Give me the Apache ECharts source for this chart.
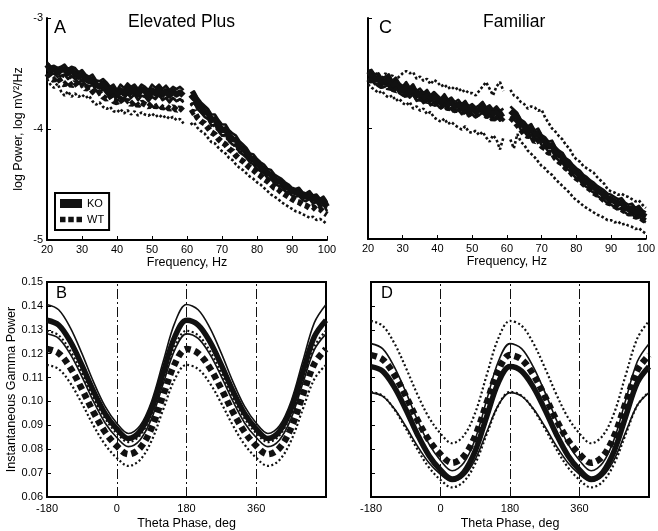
<!DOCTYPE html>
<html>
<head>
<meta charset="utf-8">
<script src="https://cdn.jsdelivr.net/npm/echarts@6/dist/echarts.min.js"></script>
<style>html,body{margin:0;padding:0;background:#fff;}#chart{width:658px;height:531px;}</style>
</head>
<body>
<div id="chart"></div>
<script>
// ---------- DATA ----------
// Frequency axis (Hz), 20..100 in 1 Hz steps; 60 Hz removed (null)
const freqHz = [];
for (let f = 20; f <= 100; f++) freqHz.push(f);

// Panel A (Elevated Plus) log power
const A_KO = [-3.42,-3.47,-3.46,-3.49,-3.47,-3.46,-3.50,-3.47,-3.50,-3.53,
  -3.51,-3.55,-3.57,-3.55,-3.60,-3.62,-3.59,-3.63,-3.67,-3.64,
  -3.70,-3.65,-3.68,-3.63,-3.67,-3.64,-3.69,-3.64,-3.66,-3.70,
  -3.65,-3.68,-3.64,-3.69,-3.66,-3.70,-3.66,-3.69,-3.67,-3.70,
  null,-3.73,-3.70,-3.77,-3.80,-3.84,-3.86,-3.92,-3.91,-3.97,
  -4.01,-4.00,-4.06,-4.09,-4.10,-4.16,-4.18,-4.21,-4.26,-4.27,
  -4.31,-4.34,-4.36,-4.40,-4.41,-4.45,-4.47,-4.48,-4.52,-4.53,
  -4.56,-4.57,-4.56,-4.60,-4.61,-4.59,-4.63,-4.62,-4.66,-4.64,
  -4.70];
const A_KO_hi = [-3.40,-3.44,-3.43,-3.45,-3.44,-3.42,-3.46,-3.44,-3.45,-3.49,
  -3.47,-3.51,-3.53,-3.51,-3.56,-3.57,-3.55,-3.58,-3.62,-3.60,
  -3.65,-3.60,-3.63,-3.59,-3.62,-3.60,-3.64,-3.60,-3.62,-3.65,
  -3.60,-3.63,-3.60,-3.64,-3.61,-3.65,-3.62,-3.64,-3.62,-3.65,
  null,-3.68,-3.66,-3.72,-3.76,-3.79,-3.82,-3.87,-3.87,-3.92,
  -3.96,-3.96,-4.01,-4.04,-4.06,-4.11,-4.14,-4.17,-4.22,-4.23,
  -4.27,-4.30,-4.32,-4.36,-4.37,-4.41,-4.43,-4.45,-4.48,-4.50,
  -4.53,-4.54,-4.53,-4.57,-4.58,-4.56,-4.60,-4.59,-4.63,-4.61,
  -4.66];
const A_KO_lo = [-3.45,-3.51,-3.50,-3.53,-3.52,-3.51,-3.55,-3.52,-3.55,-3.58,
  -3.56,-3.60,-3.62,-3.60,-3.65,-3.67,-3.64,-3.68,-3.72,-3.69,
  -3.75,-3.71,-3.73,-3.68,-3.72,-3.69,-3.74,-3.70,-3.71,-3.75,
  -3.71,-3.73,-3.69,-3.74,-3.72,-3.76,-3.72,-3.75,-3.73,-3.76,
  null,-3.79,-3.76,-3.82,-3.85,-3.89,-3.91,-3.97,-3.96,-4.02,
  -4.06,-4.05,-4.11,-4.14,-4.15,-4.21,-4.23,-4.26,-4.30,-4.32,
  -4.36,-4.38,-4.40,-4.44,-4.45,-4.49,-4.51,-4.52,-4.56,-4.57,
  -4.60,-4.61,-4.60,-4.64,-4.65,-4.63,-4.67,-4.66,-4.70,-4.68,
  -4.74];
const A_WT = [-3.50,-3.54,-3.56,-3.53,-3.58,-3.60,-3.57,-3.61,-3.58,-3.62,
  -3.60,-3.64,-3.62,-3.66,-3.69,-3.67,-3.71,-3.73,-3.70,-3.75,
  -3.76,-3.73,-3.77,-3.74,-3.78,-3.75,-3.79,-3.76,-3.78,-3.80,
  -3.77,-3.80,-3.78,-3.81,-3.79,-3.82,-3.80,-3.83,-3.81,-3.84,
  null,-3.86,-3.84,-3.90,-3.93,-3.95,-3.99,-4.03,-4.05,-4.09,
  -4.12,-4.14,-4.18,-4.20,-4.24,-4.27,-4.29,-4.32,-4.35,-4.37,
  -4.40,-4.42,-4.45,-4.47,-4.50,-4.53,-4.54,-4.57,-4.59,-4.61,
  -4.63,-4.65,-4.66,-4.68,-4.69,-4.71,-4.70,-4.73,-4.72,-4.75,
  -4.77];
const A_WT_hi = [-3.46,-3.49,-3.50,-3.48,-3.52,-3.53,-3.51,-3.55,-3.52,-3.56,
  -3.54,-3.58,-3.57,-3.60,-3.63,-3.61,-3.65,-3.66,-3.64,-3.68,
  -3.68,-3.66,-3.70,-3.67,-3.71,-3.68,-3.72,-3.69,-3.71,-3.72,
  -3.69,-3.72,-3.70,-3.73,-3.71,-3.74,-3.72,-3.75,-3.73,-3.75,
  null,-3.78,-3.76,-3.82,-3.85,-3.88,-3.91,-3.95,-3.98,-4.02,
  -4.05,-4.07,-4.11,-4.13,-4.17,-4.20,-4.22,-4.25,-4.28,-4.30,
  -4.33,-4.35,-4.38,-4.40,-4.43,-4.46,-4.47,-4.50,-4.52,-4.54,
  -4.56,-4.58,-4.59,-4.61,-4.62,-4.64,-4.63,-4.66,-4.65,-4.68,
  -4.71];
const A_WT_lo = [-3.55,-3.60,-3.63,-3.59,-3.66,-3.70,-3.66,-3.71,-3.68,-3.71,
  -3.69,-3.72,-3.70,-3.75,-3.78,-3.76,-3.80,-3.82,-3.80,-3.84,
  -3.85,-3.82,-3.86,-3.83,-3.87,-3.84,-3.88,-3.85,-3.87,-3.88,
  -3.86,-3.89,-3.87,-3.90,-3.88,-3.91,-3.89,-3.92,-3.91,-3.95,
  null,-3.96,-3.94,-3.99,-4.02,-4.04,-4.08,-4.12,-4.13,-4.17,
  -4.20,-4.22,-4.26,-4.28,-4.32,-4.35,-4.37,-4.40,-4.43,-4.45,
  -4.48,-4.50,-4.53,-4.56,-4.59,-4.61,-4.63,-4.66,-4.68,-4.70,
  -4.72,-4.74,-4.75,-4.77,-4.78,-4.80,-4.79,-4.82,-4.81,-4.83,
  -4.86];

// Panel C (Familiar) log power
const C_KO = [-3.52,-3.50,-3.56,-3.54,-3.59,-3.57,-3.55,-3.61,-3.58,-3.63,
  -3.66,-3.62,-3.67,-3.64,-3.70,-3.68,-3.72,-3.69,-3.74,-3.71,
  -3.74,-3.77,-3.73,-3.78,-3.76,-3.80,-3.78,-3.82,-3.79,-3.84,
  -3.82,-3.85,-3.83,-3.80,-3.85,-3.83,-3.87,-3.84,-3.88,-3.86,
  null,-3.84,-3.87,-3.90,-3.96,-3.98,-4.02,-4.00,-4.06,-4.04,
  -4.10,-4.12,-4.16,-4.15,-4.21,-4.24,-4.26,-4.31,-4.33,-4.37,
  -4.40,-4.42,-4.46,-4.48,-4.51,-4.53,-4.56,-4.58,-4.60,-4.63,
  -4.64,-4.66,-4.68,-4.67,-4.71,-4.73,-4.72,-4.76,-4.74,-4.78,
  -4.80];
const C_KO_hi = [-3.48,-3.47,-3.52,-3.50,-3.55,-3.53,-3.51,-3.57,-3.54,-3.59,
  -3.62,-3.58,-3.63,-3.60,-3.66,-3.64,-3.68,-3.65,-3.70,-3.67,
  -3.70,-3.73,-3.69,-3.74,-3.72,-3.76,-3.74,-3.78,-3.75,-3.80,
  -3.78,-3.81,-3.79,-3.76,-3.81,-3.79,-3.83,-3.80,-3.84,-3.82,
  null,-3.80,-3.83,-3.86,-3.92,-3.94,-3.98,-3.96,-4.02,-4.00,
  -4.06,-4.08,-4.12,-4.11,-4.17,-4.20,-4.22,-4.27,-4.29,-4.33,
  -4.36,-4.38,-4.42,-4.44,-4.47,-4.49,-4.52,-4.54,-4.56,-4.59,
  -4.60,-4.62,-4.64,-4.63,-4.67,-4.69,-4.68,-4.72,-4.70,-4.74,
  -4.76];
const C_KO_lo = [-3.56,-3.55,-3.60,-3.59,-3.63,-3.62,-3.60,-3.66,-3.63,-3.68,
  -3.70,-3.67,-3.72,-3.69,-3.75,-3.73,-3.77,-3.74,-3.79,-3.76,
  -3.79,-3.82,-3.78,-3.83,-3.81,-3.85,-3.83,-3.87,-3.84,-3.89,
  -3.87,-3.90,-3.88,-3.85,-3.90,-3.88,-3.92,-3.89,-3.93,-3.91,
  null,-3.89,-3.92,-3.95,-4.01,-4.03,-4.07,-4.05,-4.11,-4.09,
  -4.15,-4.17,-4.21,-4.20,-4.26,-4.29,-4.31,-4.36,-4.38,-4.42,
  -4.45,-4.47,-4.51,-4.53,-4.56,-4.58,-4.61,-4.63,-4.65,-4.68,
  -4.69,-4.71,-4.73,-4.72,-4.76,-4.78,-4.77,-4.81,-4.79,-4.83,
  -4.85];
const C_WT = [-3.55,-3.57,-3.54,-3.60,-3.62,-3.58,-3.64,-3.61,-3.66,-3.64,
  -3.68,-3.70,-3.66,-3.72,-3.70,-3.74,-3.71,-3.76,-3.73,-3.78,
  -3.77,-3.80,-3.78,-3.82,-3.80,-3.84,-3.81,-3.86,-3.84,-3.87,
  -3.85,-3.88,-3.86,-3.84,-3.89,-3.87,-3.92,-3.88,-3.93,-3.90,
  null,-3.90,-3.93,-3.97,-4.01,-4.05,-4.07,-4.06,-4.12,-4.10,
  -4.16,-4.18,-4.22,-4.22,-4.27,-4.30,-4.32,-4.36,-4.38,-4.42,
  -4.45,-4.47,-4.50,-4.53,-4.55,-4.58,-4.60,-4.62,-4.65,-4.67,
  -4.68,-4.70,-4.72,-4.73,-4.75,-4.77,-4.77,-4.80,-4.79,-4.82,
  -4.84];
const C_WT_hi = [-3.50,-3.52,-3.49,-3.53,-3.55,-3.50,-3.54,-3.52,-3.56,-3.53,
  -3.50,-3.48,-3.50,-3.49,-3.55,-3.53,-3.57,-3.55,-3.60,-3.56,
  -3.58,-3.62,-3.60,-3.64,-3.62,-3.65,-3.63,-3.67,-3.65,-3.68,
  -3.68,-3.70,-3.66,-3.62,-3.58,-3.64,-3.70,-3.62,-3.58,-3.66,
  null,-3.65,-3.70,-3.72,-3.76,-3.78,-3.82,-3.80,-3.81,-3.84,
  -3.83,-3.90,-3.95,-4.00,-4.03,-4.07,-4.10,-4.15,-4.18,-4.24,
  -4.28,-4.30,-4.34,-4.36,-4.38,-4.40,-4.44,-4.47,-4.50,-4.55,
  -4.57,-4.58,-4.60,-4.59,-4.61,-4.62,-4.64,-4.66,-4.65,-4.69,
  -4.72];
const C_WT_lo = [-3.60,-3.63,-3.65,-3.68,-3.66,-3.70,-3.72,-3.70,-3.75,-3.73,
  -3.77,-3.79,-3.76,-3.82,-3.80,-3.84,-3.82,-3.87,-3.85,-3.90,
  -3.92,-3.94,-3.91,-3.96,-3.94,-3.97,-3.99,-4.01,-3.98,-4.03,
  -4.04,-4.02,-4.06,-4.03,-4.08,-4.12,-4.06,-4.10,-4.19,-4.08,
  null,-4.10,-4.18,-4.05,-4.12,-4.15,-4.20,-4.23,-4.26,-4.30,
  -4.34,-4.36,-4.40,-4.42,-4.46,-4.49,-4.52,-4.55,-4.58,-4.62,
  -4.65,-4.67,-4.70,-4.72,-4.74,-4.76,-4.78,-4.79,-4.81,-4.83,
  -4.83,-4.85,-4.84,-4.87,-4.86,-4.88,-4.89,-4.91,-4.90,-4.93,
  -4.95];

// Theta phase (deg)
const phaseDeg = [-180,-150,-120,-90,-60,-30,0,30,60,90,120,150,180,210,240,270,300,330,360,390,420,450,480,510,540];
const phaseMarks = [0, 180, 360];
const phaseTickLabels = {'-180': '-180', '0': '0', '180': '180', '360': '360', '540': ''};

// Panel B (Elevated Plus) instantaneous gamma power
const B_KO    = [.1340,.1320,.1251,.1152,.1043,.0949,.0885,.0845,.0875,.0969,.1122,.1271,.1340,.1320,.1251,.1152,.1043,.0949,.0885,.0845,.0875,.0969,.1122,.1271,.1340];
const B_KO_hi = [.1406,.1384,.1309,.1201,.1082,.0979,.0909,.0866,.0898,.1001,.1168,.1330,.1406,.1384,.1309,.1201,.1082,.0979,.0909,.0866,.0898,.1001,.1168,.1330,.1406];
const B_KO_lo = [.1283,.1264,.1198,.1104,.1000,.0910,.0849,.0811,.0839,.0929,.1075,.1217,.1283,.1264,.1198,.1104,.1000,.0910,.0849,.0811,.0839,.0929,.1075,.1217,.1283];
const B_WT    = [.1220,.1202,.1141,.1052,.0955,.0872,.0814,.0779,.0805,.0889,.1026,.1158,.1220,.1202,.1141,.1052,.0955,.0872,.0814,.0779,.0805,.0889,.1026,.1158,.1220];
const B_WT_hi = [.1296,.1277,.1212,.1119,.1016,.0928,.0867,.0830,.0858,.0947,.1091,.1231,.1296,.1277,.1212,.1119,.1016,.0928,.0867,.0830,.0858,.0947,.1091,.1231,.1296];
const B_WT_lo = [.1153,.1136,.1077,.0992,.0899,.0819,.0764,.0730,.0755,.0836,.0967,.1094,.1153,.1136,.1077,.0992,.0899,.0819,.0764,.0730,.0755,.0836,.0967,.1094,.1153];

// Panel D (Familiar) instantaneous gamma power
const D_KO    = [.1146,.1127,.1061,.0967,.0863,.0774,.0713,.0675,.0703,.0793,.0939,.1080,.1146,.1127,.1061,.0967,.0863,.0774,.0713,.0675,.0703,.0793,.0939,.1080,.1146];
const D_KO_hi = [.1242,.1221,.1146,.1040,.0923,.0822,.0753,.0710,.0742,.0843,.1008,.1168,.1242,.1221,.1146,.1040,.0923,.0822,.0753,.0710,.0742,.0843,.1008,.1168,.1242];
const D_KO_lo = [.1037,.1022,.0970,.0896,.0814,.0743,.0695,.0665,.0687,.0758,.0873,.0985,.1037,.1022,.0970,.0896,.0814,.0743,.0695,.0665,.0687,.0758,.0873,.0985,.1037];
const D_WT    = [.1194,.1176,.1113,.1023,.0923,.0838,.0779,.0743,.0770,.0856,.0996,.1131,.1194,.1176,.1113,.1023,.0923,.0838,.0779,.0743,.0770,.0856,.0996,.1131,.1194];
const D_WT_hi = [.1337,.1317,.1245,.1142,.1030,.0933,.0866,.0825,.0856,.0953,.1112,.1265,.1337,.1317,.1245,.1142,.1030,.0933,.0866,.0825,.0856,.0953,.1112,.1265,.1337];
const D_WT_lo = [.1040,.1024,.0968,.0888,.0800,.0724,.0672,.0640,.0664,.0740,.0864,.0984,.1040,.1024,.0968,.0888,.0800,.0724,.0672,.0640,.0664,.0740,.0864,.0984,.1040];

// ---------- CHART ----------
const FONT = '"Liberation Sans", Arial, Helvetica, sans-serif';
const INK = '#111';
const chart = echarts.init(document.getElementById('chart'), null, {renderer: 'canvas'});

function pairs(xs, ys) { return xs.map((x, i) => [x, ys[i]]); }

const STY = {
  koMean: {color: INK, width: 6, type: 'solid', join: 'round'},
  koSE:   {color: INK, width: 2.6, type: 'solid', join: 'round'},
  wtMean: {color: INK, width: 6, type: [5, 3], cap: 'butt'},
  wtSE:   {color: INK, width: 2.6, type: [2.6, 2.2], cap: 'butt'}
};
const STY_B = {
  koMean: {color: INK, width: 5.5, type: 'solid'},
  koSE:   {color: INK, width: 1.6, type: 'solid'},
  wtMean: {color: INK, width: 6.5, type: [6, 4], cap: 'butt'},
  wtSE:   {color: INK, width: 2.2, type: [2, 2.4], cap: 'butt'}
};

function line(name, gi, xs, ys, ls, smooth, extra) {
  return Object.assign({
    name: name, type: 'line', xAxisIndex: gi, yAxisIndex: gi,
    data: pairs(xs, ys), showSymbol: false, symbol: 'none',
    connectNulls: false, smooth: smooth ? 0.35 : false, silent: true,
    lineStyle: Object.assign({}, ls), animation: false
  }, extra || {});
}

const vmark = {
  silent: true, symbol: 'none', animation: false,
  label: {show: false},
  lineStyle: {color: INK, width: 1, type: [10, 3, 2, 3]},
  data: phaseMarks.map(v => ({xAxis: v}))
};

const axisLineStyle = {show: true, onZero: false, lineStyle: {color: '#000', width: 2}};
const tickIn = {show: true, inside: true, length: 4, lineStyle: {color: '#000', width: 1}};
const lab = {color: '#000', fontSize: 11, fontFamily: FONT, margin: 4};
const nameSty = {color: '#000', fontSize: 12.5, fontFamily: FONT};

function freqX(gi) {
  return {gridIndex: gi, type: 'value', min: 20, max: 100, interval: 10,
    axisLine: axisLineStyle, axisTick: tickIn, axisLabel: lab, splitLine: {show: false},
    name: 'Frequency, Hz', nameLocation: 'middle', nameGap: 13, nameTextStyle: nameSty};
}
function phaseX(gi) {
  return {gridIndex: gi, type: 'value', min: -180, max: 540, interval: 180,
    axisLine: axisLineStyle, axisTick: tickIn,
    axisLabel: Object.assign({}, lab, {margin: 6, formatter: v => {
      const k = String(Math.round(v));
      return k in phaseTickLabels ? phaseTickLabels[k] : '';
    }}),
    splitLine: {show: false},
    name: 'Theta Phase, deg', nameLocation: 'middle', nameGap: 20, nameTextStyle: nameSty};
}

const titleSty = (size) => ({fontSize: size, fontWeight: 'normal', color: '#000', fontFamily: FONT});

const option = {
  backgroundColor: '#fff',
  animation: false,
  textStyle: {fontFamily: FONT},
  title: [
    {text: 'Elevated Plus', left: 128, top: 13, padding: 0, textStyle: titleSty(17.5)},
    {text: 'A', left: 54, top: 19, padding: 0, textStyle: titleSty(18)},
    {text: 'Familiar', left: 483, top: 13, padding: 0, textStyle: titleSty(17.5)},
    {text: 'C', left: 379, top: 19, padding: 0, textStyle: titleSty(18)},
    {text: 'B', left: 56, top: 285, padding: 0, textStyle: titleSty(16.5)},
    {text: 'D', left: 381, top: 285, padding: 0, textStyle: titleSty(16.5)}
  ],
  legend: {
    left: 55, top: 193, orient: 'vertical',
    borderColor: '#000', borderWidth: 2, borderRadius: 0,
    padding: [5, 5, 5, 5], itemGap: 5, itemWidth: 22, itemHeight: 9,
    textStyle: {color: '#000', fontSize: 11, fontFamily: FONT},
    selectedMode: false,
    data: [
      {name: 'KO', icon: 'rect', itemStyle: {color: INK}},
      {name: 'WT', icon: 'path://M0,0h6v6h-6z M9,0h6v6h-6z M18,0h6v6h-6z', itemStyle: {color: INK}}
    ]
  },
  grid: [
    {left: 47, top: 18, width: 280, height: 222},
    {left: 368, top: 18, width: 281, height: 221},
    {left: 47, top: 282, width: 279, height: 220, show: true, borderColor: '#000', borderWidth: 2},
    {left: 371, top: 282, width: 278, height: 220, show: true, borderColor: '#000', borderWidth: 2}
  ],
  xAxis: [freqX(0), freqX(1), phaseX(2), phaseX(3)],
  yAxis: [
    {gridIndex: 0, type: 'value', min: -5, max: -3, interval: 1,
      axisLine: axisLineStyle, axisTick: tickIn, axisLabel: lab, splitLine: {show: false},
      name: 'log Power, log mV\u00B2/Hz', nameLocation: 'middle', nameGap: 22, nameRotate: 90, nameTextStyle: nameSty},
    {gridIndex: 1, type: 'value', min: -5, max: -3, interval: 1,
      axisLine: axisLineStyle, axisTick: tickIn, axisLabel: {show: false}, splitLine: {show: false}},
    {gridIndex: 2, type: 'value', min: 0.06, max: 0.15, interval: 0.01,
      axisLine: axisLineStyle, axisTick: tickIn,
      axisLabel: Object.assign({}, lab, {formatter: v => v.toFixed(2)}), splitLine: {show: false},
      name: 'Instantaneous Gamma Power', nameLocation: 'middle', nameGap: 25, nameRotate: 90, nameTextStyle: nameSty},
    {gridIndex: 3, type: 'value', min: 0.06, max: 0.15, interval: 0.01,
      axisLine: axisLineStyle, axisTick: tickIn, axisLabel: {show: false}, splitLine: {show: false}}
  ],
  series: [
    // Panel A
    line('WT', 0, freqHz, A_WT, STY.wtMean, false),
    line('WT hi A', 0, freqHz, A_WT_hi, STY.wtSE, false),
    line('WT lo A', 0, freqHz, A_WT_lo, STY.wtSE, false),
    line('KO', 0, freqHz, A_KO, STY.koMean, false),
    line('KO hi A', 0, freqHz, A_KO_hi, STY.koSE, false),
    line('KO lo A', 0, freqHz, A_KO_lo, STY.koSE, false),
    // Panel C
    line('WT C', 1, freqHz, C_WT, STY.wtMean, false),
    line('WT hi C', 1, freqHz, C_WT_hi, STY.wtSE, false),
    line('WT lo C', 1, freqHz, C_WT_lo, STY.wtSE, false),
    line('KO C', 1, freqHz, C_KO, STY.koMean, false),
    line('KO hi C', 1, freqHz, C_KO_hi, STY.koSE, false),
    line('KO lo C', 1, freqHz, C_KO_lo, STY.koSE, false),
    // Panel B
    line('WT B', 2, phaseDeg, B_WT, STY_B.wtMean, true, {markLine: vmark}),
    line('WT hi B', 2, phaseDeg, B_WT_hi, STY_B.wtSE, true),
    line('WT lo B', 2, phaseDeg, B_WT_lo, STY_B.wtSE, true),
    line('KO B', 2, phaseDeg, B_KO, STY_B.koMean, true),
    line('KO hi B', 2, phaseDeg, B_KO_hi, STY_B.koSE, true),
    line('KO lo B', 2, phaseDeg, B_KO_lo, STY_B.koSE, true),
    // Panel D
    line('WT D', 3, phaseDeg, D_WT, STY_B.wtMean, true, {markLine: vmark}),
    line('WT hi D', 3, phaseDeg, D_WT_hi, STY_B.wtSE, true),
    line('WT lo D', 3, phaseDeg, D_WT_lo, STY_B.wtSE, true),
    line('KO D', 3, phaseDeg, D_KO, STY_B.koMean, true),
    line('KO hi D', 3, phaseDeg, D_KO_hi, STY_B.koSE, true),
    line('KO lo D', 3, phaseDeg, D_KO_lo, STY_B.koSE, true)
  ]
};
chart.setOption(option);
</script>
</body>
</html>
